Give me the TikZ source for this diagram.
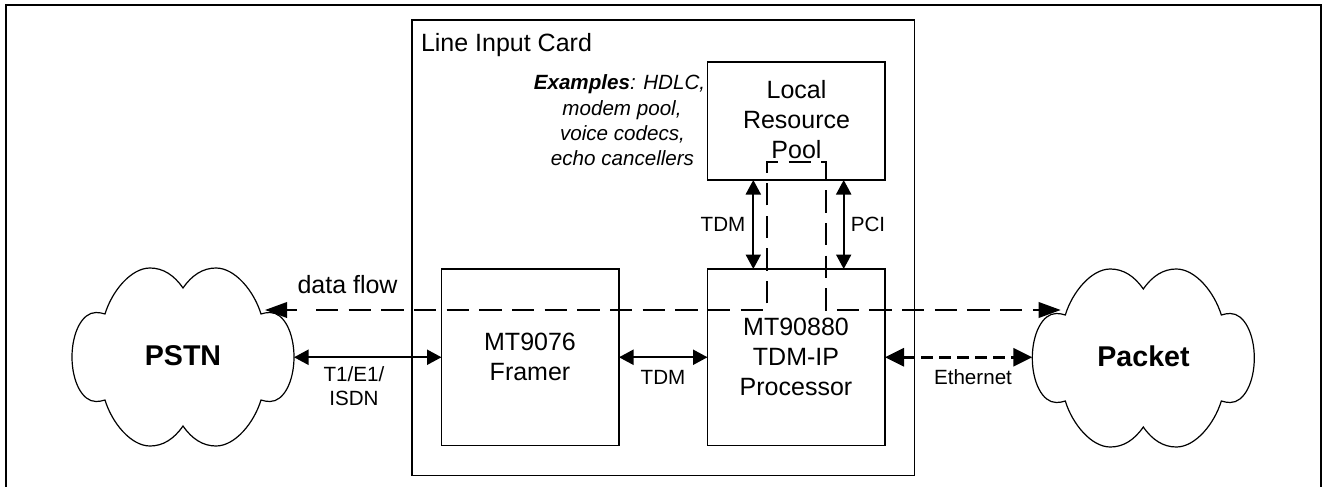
\documentclass[tikz,border=0pt]{standalone}
\usepackage{fontspec}
\setmainfont{Liberation Sans}
\usetikzlibrary{arrows.meta}
\tikzset{
  box/.style={draw,line width=1.25pt,inner sep=0pt,outer sep=0pt},
  lab/.style={inner sep=0pt,outer sep=0pt,anchor=base,align=center,font=\fontsize{20.6}{24}\selectfont},
  big/.style={lab,font=\fontsize{25}{30}\selectfont},
  cloudlab/.style={lab,font=\fontsize{28.6}{32}\selectfont\bfseries},
  ital/.style={lab,font=\fontsize{20.6}{25}\selectfont\itshape},
  anchorbox/.style={inner sep=0pt,outer sep=0pt,minimum width=222pt,minimum height=178pt},
  link/.style={line width=2.1pt,{Triangle[length=14.5pt,width=15pt]}-{Triangle[length=14.5pt,width=15pt]}},
  eth/.style={line width=3.2pt,dash pattern=on 12pt off 6pt,{Triangle[length=19pt,width=18pt]}-{Triangle[length=19pt,width=18pt]}},
  flow/.style={line width=2pt,line join=miter},
  flowdash/.style={flow,dash pattern=on 22.3pt off 10.37pt},
  flowtip/.tip={Triangle[length=22pt,width=15.5pt]},
  cloudshape/.pic={
    \draw[line width=1.2pt]
      (0,-69) .. controls (-9,-82) and (-20,-89) .. (-33,-89)
      .. controls (-52,-89) and (-71,-66) .. (-78,-43)
      .. controls (-81,-44) and (-84,-44.5) .. (-87,-44.5)
      .. controls (-101,-44.5) and (-111,-24) .. (-111,0)
      .. controls (-111,24) and (-101,44.5) .. (-87,44.5)
      .. controls (-84,44.5) and (-81,44) .. (-78,43)
      .. controls (-71,66) and (-52,89) .. (-33,89)
      .. controls (-20,89) and (-9,82) .. (0,69)
      .. controls (9,82) and (20,89) .. (33,89)
      .. controls (52,89) and (71,66) .. (78,43)
      .. controls (81,44) and (84,44.5) .. (87,44.5)
      .. controls (101,44.5) and (111,24) .. (111,0)
      .. controls (111,-24) and (101,-44.5) .. (87,-44.5)
      .. controls (84,-44.5) and (81,-44) .. (78,-43)
      .. controls (71,-66) and (52,-89) .. (33,-89)
      .. controls (20,-89) and (9,-82) .. (0,-69) -- cycle;
  }
}
\begin{document}
\begin{tikzpicture}[x=1pt,y=-1pt]
\useasboundingbox (0,0) rectangle (1322,487);
% outer frame
\draw[line width=2pt,line join=miter] (6,487) -- (6,5) -- (1321,5) -- (1321,487);
% boxes
\node[box,minimum width=502.5pt,minimum height=455.5pt] (card) at (663.25,247.75) {};
\node[box,minimum width=177.5pt,minimum height=176.5pt] (framer) at (530.25,357.25) {};
\node[box,minimum width=177.5pt,minimum height=176.5pt] (proc) at (796.25,357.25) {};
\node[box,minimum width=177.5pt,minimum height=118pt] (res) at (796.25,121) {};
% clouds
\pic at (183,357) {cloudshape};
\pic at (1143.3,358) {cloudshape};
\node[anchorbox] (pstn) at (183,357.25) {};
\node[anchorbox] (packet) at (1143.3,357.25) {};
% labels
\node[big,anchor=base west] (cardlab) at (421,51.7) {Line Input Card};
\node[big] (reslab1) at (796.5,98.3) {Local};
\node[big] (reslab2) at (796.5,128.3) {Resource};
\node[big] (reslab3) at (796.5,158.3) {Pool};
\node[big] (framelab1) at (530,350) {MT9076};
\node[big] (framelab2) at (530,380) {Framer};
\node[big] (proclab1) at (796,335) {MT90880};
\node[big] (proclab2) at (796,365) {TDM-IP};
\node[big] (proclab3) at (796,395) {Processor};
\node[cloudlab] (pstnlab) at (183,365) {PSTN};
\node[cloudlab] (packetlab) at (1143.5,366) {Packet};
\node[big,anchor=base west] (flowlab) at (297.5,293.3) {data flow};
\node[lab] (t1a) at (354,381.7) {T1/E1/};
\node[lab] (t1b) at (354,405.7) {ISDN};
\node[lab] (tdmh) at (663,384) {TDM};
\node[lab] (tdmv) at (723,231) {TDM};
\node[lab] (pci) at (868,231) {PCI};
\node[lab] (ether) at (973,384) {Ethernet};
\node[ital] (ex1) at (619.5,89.3) {\textbf{Examples}: HDLC,};
\node[ital] (ex2) at (622,115) {modem pool,};
\node[ital] (ex3) at (622.5,140) {voice codecs,};
\node[ital] (ex4) at (622.5,165) {echo cancellers};
% solid links
\coordinate (tdmx) at (753.3,0);
\coordinate (pcix) at (843.7,0);
\draw[link] (pstn.east) -- (framer.west);
\draw[link] (framer.east) -- (proc.west);
\draw[eth] (proc.east) -- (packet.west);
\draw[link] (res.south -| tdmx) -- (proc.north -| tdmx);
\draw[link] (res.south -| pcix) -- (proc.north -| pcix);
% data flow
\coordinate (fTipL) at (265,310);
\coordinate (fStubEnd) at (297,310);
\coordinate (fStart) at (316,310);
\coordinate (fUpA) at (766.7,310);
\coordinate (fTopA) at (766.7,162);
\coordinate (fTopB) at (825.7,162);
\coordinate (fDownB) at (825.7,310);
\coordinate (fTipR) at (1060.7,310);
\draw[flow,{flowtip}-] (fTipL) -- (fStubEnd);
\draw[flowdash,-{flowtip}] (fStart) -- (fUpA) -- (fTopA) -- (fTopB) -- (fDownB) -- (fTipR);
\end{tikzpicture}
\end{document}
